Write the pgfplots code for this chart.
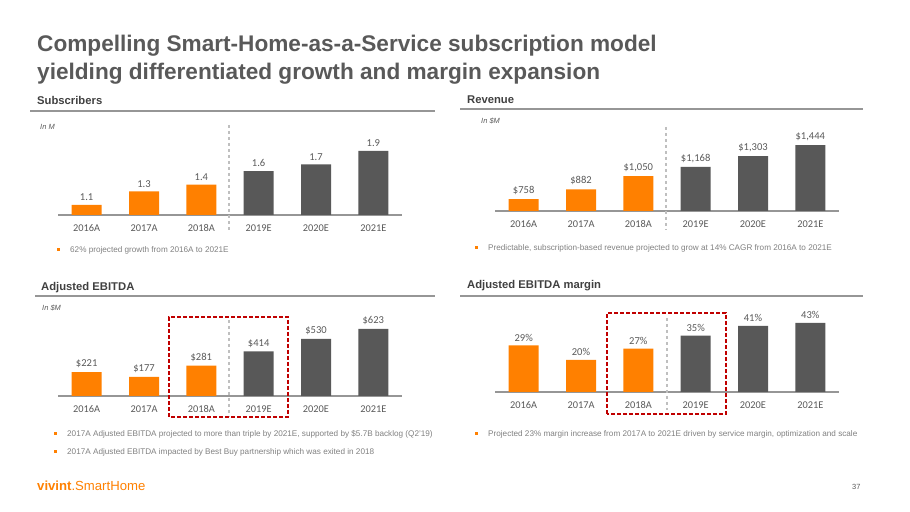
\documentclass[border=0pt]{standalone}
\usepackage{fontspec}
\setmainfont{Liberation Sans}
\newfontfamily\carlito{Carlito}
\usepackage{pgfplots}
\pgfplotsset{compat=1.18}
\definecolor{vorange}{RGB}{255,128,0}
\definecolor{vgray}{RGB}{88,88,88}
\definecolor{titlegray}{RGB}{89,89,89}
\definecolor{headgray}{RGB}{64,64,64}
\definecolor{textgray}{RGB}{128,128,128}
\definecolor{linegray}{RGB}{150,150,150}
\definecolor{sepgray}{RGB}{191,191,191}
\definecolor{boxred}{RGB}{192,0,0}
\pgfplotsset{
  vbar/.style={
    scale only axis, width=344bp, height=90bp,
    xmin=-0.5, xmax=5.5,
    axis x line*=bottom, axis y line=none,
    x axis line style={draw=linegray, line width=1.2bp, -},
    xtick={0,...,5},
    xticklabels={2016A,2017A,2018A,2019E,2020E,2021E},
    major tick length=0pt,
    xticklabel style={font=\carlito\fontsize{10.4}{12}\selectfont, text=titlegray, inner sep=0pt, anchor=north, yshift=-9.5bp},
    ybar, bar width=30bp,
    point meta=explicit symbolic,
    nodes near coords,
    every node near coord/.append style={font=\carlito\fontsize{10.6}{12}\selectfont, text=titlegray, inner sep=0pt, anchor=south, yshift=4bp},
    anchor=south west,
  },
  orangebar/.style={fill=vorange, draw=none, bar shift=0pt},
  graybar/.style={fill=vgray, draw=none, bar shift=0pt},
}
\newcommand{\bullettext}[3]{%
  \fill[vorange] (#1-1.5,#2+2.2) rectangle (#1+1.5,#2+5.2);
  \node[anchor=base west, inner sep=0pt, text=textgray, font=\fontsize{8.2}{10}\selectfont] at (#1+12,#2) {#3};}
\begin{document}
\begin{tikzpicture}[x=1bp,y=1bp]
\path[use as bounding box] (0,0) rectangle (910,512);
\coordinate (A1) at (58,297);
\coordinate (A2) at (495,301);
\coordinate (A3) at (58,116);
\coordinate (A4) at (495,120);
% Title
\node[anchor=base west, inner sep=0pt, text=titlegray, font=\bfseries\fontsize{22.7}{27}\selectfont] at (37,460) {Compelling Smart-Home-as-a-Service subscription model};
\node[anchor=base west, inner sep=0pt, text=titlegray, font=\bfseries\fontsize{22.7}{27}\selectfont] at (37,432) {yielding differentiated growth and margin expansion};
% Section headings
\node[anchor=base west, inner sep=0pt, text=headgray, font=\bfseries\fontsize{11.3}{13}\selectfont] at (37,407) {Subscribers};
\node[anchor=base west, inner sep=0pt, text=headgray, font=\bfseries\fontsize{11.3}{13}\selectfont] at (467,408) {Revenue};
\node[anchor=base west, inner sep=0pt, text=headgray, font=\bfseries\fontsize{11.3}{13}\selectfont] at (41,221) {Adjusted EBITDA};
\node[anchor=base west, inner sep=0pt, text=headgray, font=\bfseries\fontsize{11.3}{13}\selectfont] at (467,223) {Adjusted EBITDA margin};
\draw[linegray, line width=1.5bp] (30,401) -- (435,401);
\draw[linegray, line width=1.5bp] (460,403) -- (863,403);
\draw[linegray, line width=1.5bp] (35,216) -- (435,216);
\draw[linegray, line width=1.5bp] (460,216) -- (863,216);
% units
\node[anchor=base west, inner sep=0pt, text=titlegray, font=\itshape\fontsize{7.5}{9}\selectfont] at (40,382) {In M};
\node[anchor=base west, inner sep=0pt, text=titlegray, font=\itshape\fontsize{7.5}{9}\selectfont] at (481,388) {In \$M};
\node[anchor=base west, inner sep=0pt, text=titlegray, font=\itshape\fontsize{7.5}{9}\selectfont] at (42,201) {In \$M};

% Subscribers
\begin{axis}[vbar, at={(A1)}, ymin=0.95, ymax=2.283]
\addplot[orangebar] coordinates {(0,1.1)[1.1] (1,1.3)[1.3] (2,1.4)[1.4]};
\addplot[graybar] coordinates {(3,1.6)[1.6] (4,1.7)[1.7] (5,1.9)[1.9]};
\end{axis}
% Revenue
\begin{axis}[vbar, at={(A2)}, ymin=606, ymax=1750]
\addplot[orangebar] coordinates {(0,758)[\$758] (1,882)[\$882] (2,1050)[\$1,050]};
\addplot[graybar] coordinates {(3,1168)[\$1,168] (4,1303)[\$1,303] (5,1444)[\$1,444]};
\end{axis}
% Adjusted EBITDA
\begin{axis}[vbar, at={(A3)}, ymin=0, ymax=836]
\addplot[orangebar] coordinates {(0,221)[\$221] (1,177)[\$177] (2,281)[\$281]};
\addplot[graybar] coordinates {(3,414)[\$414] (4,530)[\$530] (5,623)[\$623]};
\end{axis}
% Adjusted EBITDA margin
\begin{axis}[vbar, at={(A4)}, ymin=0, ymax=55.9]
\addplot[orangebar] coordinates {(0,29)[29\%] (1,20)[20\%] (2,27)[27\%]};
\addplot[graybar] coordinates {(3,35)[35\%] (4,41)[41\%] (5,43)[43\%]};
\end{axis}

% separators
\draw[sepgray, line width=1.5bp, dash pattern=on 3bp off 3bp] (229,387) -- (229,280);
\draw[sepgray, line width=1.5bp, dash pattern=on 3bp off 3bp] (666,385) -- (666,282);
\draw[sepgray, line width=1.5bp, dash pattern=on 3bp off 3bp] (229,192) -- (229,95);
\draw[sepgray, line width=1.5bp, dash pattern=on 3bp off 3bp] (667,194) -- (667,102);
% red boxes
\draw[boxred, line width=1.6bp, dash pattern=on 4bp off 2bp] (169,95) rectangle (288,195);
\draw[boxred, line width=1.6bp, dash pattern=on 4bp off 2bp] (607,98) rectangle (726,199);

% bullets
\bullettext{58}{259}{62\% projected growth from 2016A to 2021E}
\bullettext{476}{261}{Predictable, subscription-based revenue projected to grow at 14\% CAGR from 2016A to 2021E}
\bullettext{55}{75}{2017A Adjusted EBITDA projected to more than triple by 2021E, supported by \$5.7B backlog (Q2'19)}
\bullettext{55}{57}{2017A Adjusted EBITDA impacted by Best Buy partnership which was exited in 2018}
\bullettext{476}{75}{Projected 23\% margin increase from 2017A to 2021E driven by service margin, optimization and scale}

% footer
\node[anchor=base west, inner sep=0pt, text=vorange, font=\fontsize{13.2}{15}\selectfont] at (37,21) {\textbf{vivint}.SmartHome};
\node[anchor=base west, inner sep=0pt, text=titlegray, font=\fontsize{7.5}{9}\selectfont] at (852,22) {37};
\end{tikzpicture}
\end{document}
